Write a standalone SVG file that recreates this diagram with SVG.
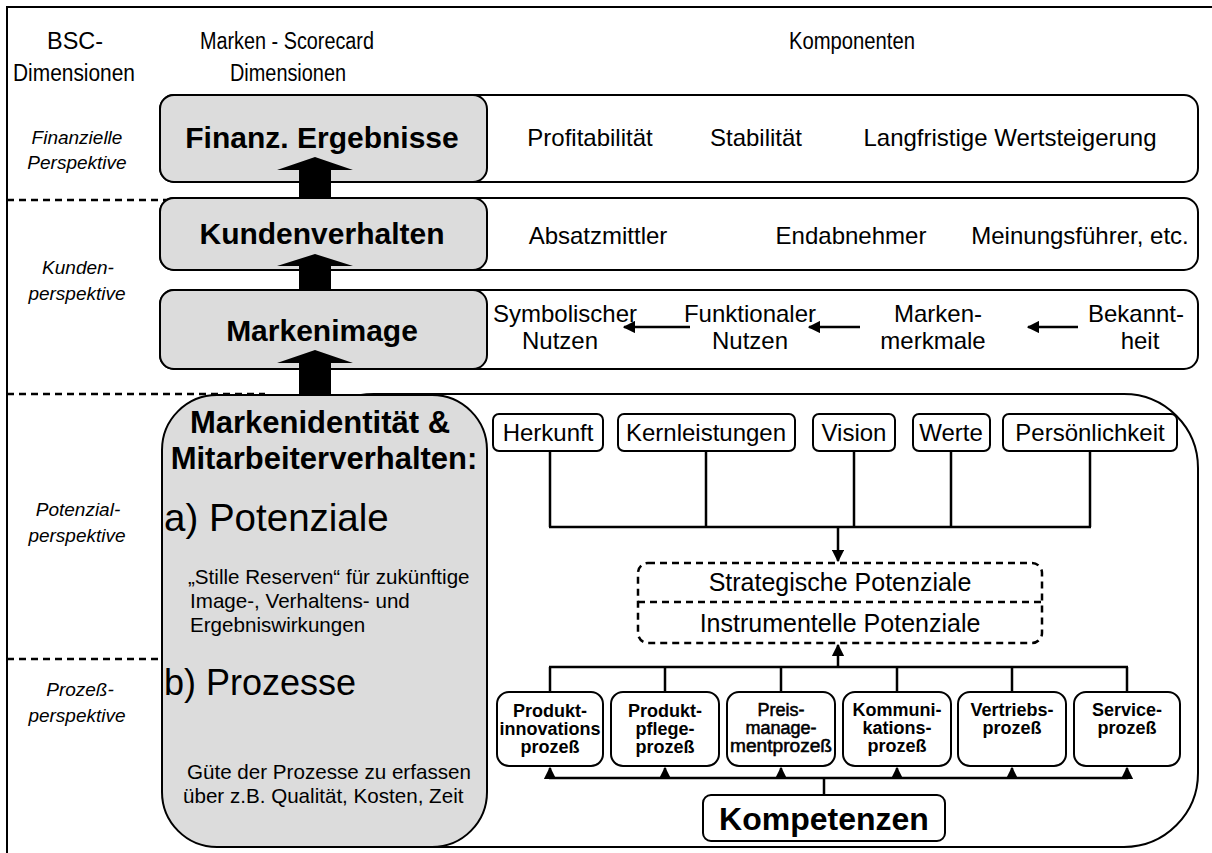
<svg xmlns="http://www.w3.org/2000/svg" width="1212" height="853" viewBox="0 0 1212 853">
  <defs>
    <marker id="tri" viewBox="0 0 10 10" refX="9" refY="5" markerWidth="5" markerHeight="5" orient="auto-start-reverse">
      <path d="M0,0 L10,5 L0,10 Z" fill="#000"/>
    </marker>
    <style>
      text { font-family: "Liberation Sans", Arial, sans-serif; fill: #000; }
      .hdr { font-size: 23.5px; text-anchor: middle; }
      .persp { font-size: 19px; font-style: italic; text-anchor: middle; }
      .dim { font-size: 30px; font-weight: bold; text-anchor: middle; }
      .dim2 { font-size: 31px; font-weight: bold; text-anchor: middle; }
      .komp { font-size: 32px; font-weight: bold; text-anchor: middle; }
      .comp { font-size: 24px; text-anchor: middle; }
      .ident { font-size: 24px; text-anchor: middle; }
      .pot { font-size: 25px; text-anchor: middle; }
      .proc { font-size: 18px; font-weight: bold; text-anchor: middle; }
      .procn { font-size: 18px; text-anchor: middle; stroke: #000; stroke-width: 0.55px; }
      .bigA { font-size: 38.5px; }
      .bigB { font-size: 36px; }
      .note { font-size: 20.6px; }
      .gray { fill: #dcdcdc; stroke: #000; stroke-width: 2; }
      .white { fill: #fff; stroke: #000; stroke-width: 2; }
      .sep { stroke: #000; stroke-width: 2.5; stroke-dasharray: 7 5; fill: none; }
      .wire { stroke: #000; stroke-width: 2.5; fill: none; }
      .thin { stroke: #000; stroke-width: 2; fill: none; }
      .dashbox { fill: #fff; stroke: #000; stroke-width: 2.5; stroke-dasharray: 7 5; }
    </style>
  </defs>

  <rect width="1212" height="853" fill="#fff"/>

  <!-- outer frame -->
  <path d="M7,853 V7 H1212" class="thin" stroke-width="2.5"/>

  <!-- column headers (narrow set) -->
  <g id="headers">
    <text class="hdr" x="75" y="49" textLength="56" lengthAdjust="spacingAndGlyphs">BSC-</text>
    <text class="hdr" x="74" y="81" textLength="122" lengthAdjust="spacingAndGlyphs">Dimensionen</text>
    <text class="hdr" x="287" y="49" textLength="174" lengthAdjust="spacingAndGlyphs">Marken - Scorecard</text>
    <text class="hdr" x="288" y="81" textLength="116" lengthAdjust="spacingAndGlyphs">Dimensionen</text>
    <text class="hdr" x="852" y="49" textLength="126" lengthAdjust="spacingAndGlyphs">Komponenten</text>
  </g>

  <!-- perspective separators and labels -->
  <g id="perspectives">
    <line class="sep" x1="7" y1="200" x2="250" y2="200"/>
    <line class="sep" x1="7" y1="394" x2="265" y2="394"/>
    <line class="sep" x1="7" y1="659" x2="162" y2="659"/>
    <text class="persp" x="77" y="144">Finanzielle</text>
    <text class="persp" x="77" y="169">Perspektive</text>
    <text class="persp" x="78" y="274">Kunden-</text>
    <text class="persp" x="77" y="300">perspektive</text>
    <text class="persp" x="78" y="516">Potenzial-</text>
    <text class="persp" x="77" y="542">perspektive</text>
    <text class="persp" x="80" y="696">Prozeß-</text>
    <text class="persp" x="77" y="722">perspektive</text>
  </g>

  <!-- block arrows between the dimension boxes (shafts) -->
  <g id="block-arrows" fill="#000">
    <polygon points="315,157 353,170 331,170 331,200 299,200 299,170 277,170"/>
    <polygon points="315,254 353,266 331,266 331,292 299,292 299,266 277,266"/>
    <polygon points="315,350 353,363 331,363 331,396 299,396 299,363 277,363"/>
  </g>

  <!-- financial row -->
  <g id="row-finanz">
    <rect class="white" x="160" y="95" width="1038" height="87" rx="14"/>
    <rect class="gray" x="160" y="95" width="327" height="87" rx="14"/>
    <text class="dim" x="322" y="148">Finanz. Ergebnisse</text>
    <text class="comp" x="590" y="146">Profitabilität</text>
    <text class="comp" x="756" y="146">Stabilität</text>
    <text class="comp" x="1010" y="146">Langfristige Wertsteigerung</text>
  </g>
  <polygon points="315,157 353,170 331,170 331,182 299,182 299,170 277,170" fill="#000"/>

  <!-- customer behaviour row -->
  <g id="row-kunden">
    <rect class="white" x="160" y="198" width="1038" height="72" rx="14"/>
    <rect class="gray" x="160" y="198" width="327" height="72" rx="14"/>
    <text class="dim" x="322" y="244">Kundenverhalten</text>
    <text class="comp" x="598" y="244">Absatzmittler</text>
    <text class="comp" x="851" y="244">Endabnehmer</text>
    <text class="comp" x="1080" y="244">Meinungsführer, etc.</text>
  </g>
  <polygon points="315,254 353,266 331,266 331,270 299,270 299,266 277,266" fill="#000"/>

  <!-- brand image row -->
  <g id="row-image">
    <rect class="white" x="160" y="290" width="1038" height="79" rx="14"/>
    <rect class="gray" x="160" y="290" width="327" height="79" rx="14"/>
    <text class="dim" x="322" y="341">Markenimage</text>
    <text class="comp" x="565" y="322">Symbolischer</text>
    <text class="comp" x="560" y="349">Nutzen</text>
    <text class="comp" x="750" y="322">Funktionaler</text>
    <text class="comp" x="750" y="349">Nutzen</text>
    <text class="comp" x="938" y="322">Marken-</text>
    <text class="comp" x="933" y="349">merkmale</text>
    <text class="comp" x="1136" y="322">Bekannt-</text>
    <text class="comp" x="1140" y="349">heit</text>
  </g>
  <polygon points="315,350 353,363 331,363 331,369 299,369 299,363 277,363" fill="#000"/>

  <!-- identity / employee behaviour container -->
  <g id="container">
    <rect class="white" x="300" y="394" width="898" height="453" rx="74"/>
  </g>

  <g id="identitaet">
    <rect class="gray" x="162" y="395" width="325" height="452" rx="55"/>
    <text class="dim2" x="320" y="433">Markenidentität &amp;</text>
    <text class="dim2" x="324" y="469">Mitarbeiterverhalten:</text>
    <text class="bigA" x="164" y="531">a) Potenziale</text>
    <text class="note" x="188" y="584">„Stille Reserven“ für zukünftige</text>
    <text class="note" x="190" y="608">Image-, Verhaltens- und</text>
    <text class="note" x="190" y="632">Ergebniswirkungen</text>
    <text class="bigB" x="164" y="695">b) Prozesse</text>
    <text class="note" x="187" y="779">Güte der Prozesse zu erfassen</text>
    <text class="note" x="183" y="803">über z.B. Qualität, Kosten, Zeit</text>
  </g>

  <!-- identity components -->
  <g id="herkunft">
    <rect class="white" x="493" y="414" width="110" height="37" rx="6"/>
    <text class="ident" x="548" y="441">Herkunft</text>
  </g>
  <g id="kernleistungen">
    <rect class="white" x="618" y="414" width="177" height="37" rx="6"/>
    <text class="ident" x="706" y="441">Kernleistungen</text>
  </g>
  <g id="vision">
    <rect class="white" x="813" y="414" width="82" height="37" rx="6"/>
    <text class="ident" x="854" y="441">Vision</text>
  </g>
  <g id="werte">
    <rect class="white" x="913" y="414" width="77" height="37" rx="6"/>
    <text class="ident" x="951" y="441">Werte</text>
  </g>
  <g id="persoenlichkeit">
    <rect class="white" x="1003" y="414" width="174" height="37" rx="6"/>
    <text class="ident" x="1090" y="441">Persönlichkeit</text>
  </g>

  <!-- potentials -->
  <g id="potenziale">
    <rect class="dashbox" x="638" y="563" width="404" height="80" rx="10"/>
    <line class="sep" x1="638" y1="602" x2="1042" y2="602"/>
    <text class="pot" x="840" y="591">Strategische Potenziale</text>
    <text class="pot" x="840" y="632">Instrumentelle Potenziale</text>
  </g>

  <!-- processes -->
  <g id="p-innovation">
    <rect class="white" x="497" y="692" width="106" height="74" rx="12"/>
    <text class="proc" x="550" y="717">Produkt-</text>
    <text class="proc" x="550" y="735">innovations</text>
    <text class="proc" x="550" y="753">prozeß</text>
  </g>
  <g id="p-pflege">
    <rect class="white" x="611" y="692" width="108" height="74" rx="12"/>
    <text class="proc" x="665" y="717">Produkt-</text>
    <text class="proc" x="665" y="735">pflege-</text>
    <text class="proc" x="665" y="753">prozeß</text>
  </g>
  <g id="p-preis">
    <rect class="white" x="727" y="692" width="108" height="74" rx="12"/>
    <text class="procn" x="781" y="716">Preis-</text>
    <text class="procn" x="781" y="734">manage-</text>
    <text class="procn" x="781" y="752" textLength="102" lengthAdjust="spacingAndGlyphs">mentprozeß</text>
  </g>
  <g id="p-kommunikation">
    <rect class="white" x="843" y="692" width="108" height="74" rx="12"/>
    <text class="proc" x="897" y="716">Kommuni-</text>
    <text class="proc" x="897" y="734">kations-</text>
    <text class="proc" x="897" y="752">prozeß</text>
  </g>
  <g id="p-vertrieb">
    <rect class="white" x="958" y="692" width="108" height="74" rx="12"/>
    <text class="proc" x="1012" y="716">Vertriebs-</text>
    <text class="proc" x="1012" y="734">prozeß</text>
  </g>
  <g id="p-service">
    <rect class="white" x="1074" y="692" width="106" height="74" rx="12"/>
    <text class="proc" x="1127" y="716">Service-</text>
    <text class="proc" x="1127" y="734">prozeß</text>
  </g>

  <g id="kompetenzen">
    <rect class="white" x="703" y="795" width="242" height="46" rx="8"/>
    <text class="komp" x="824" y="830">Kompetenzen</text>
  </g>

  <!-- connectors -->
  <g id="connectors">
    <!-- Markenimage chain -->
    <line class="wire" x1="690" y1="327" x2="624" y2="327" marker-end="url(#tri)"/>
    <line class="wire" x1="860" y1="327" x2="809" y2="327" marker-end="url(#tri)"/>
    <line class="wire" x1="1078" y1="327" x2="1028" y2="327" marker-end="url(#tri)"/>

    <!-- identity components into the potentials -->
    <path class="wire" d="M550,451 V527 M706,451 V527 M854,451 V527 M951,451 V527 M1090,451 V527 M549,527 H1091"/>
    <line class="wire" x1="838" y1="527" x2="838" y2="561" marker-end="url(#tri)"/>

    <!-- processes into the potentials -->
    <path class="wire" d="M550,692 V667 M665,692 V667 M781,692 V667 M897,692 V667 M1012,692 V667 M1127,692 V667 M549,667 H1128"/>
    <line class="wire" x1="838" y1="667" x2="838" y2="645" marker-end="url(#tri)"/>

    <!-- competences into the processes -->
    <path class="wire" d="M549,778 H1128 M824,778 V795"/>
    <line class="wire" x1="550" y1="778" x2="550" y2="768" marker-end="url(#tri)"/>
    <line class="wire" x1="665" y1="778" x2="665" y2="768" marker-end="url(#tri)"/>
    <line class="wire" x1="781" y1="778" x2="781" y2="768" marker-end="url(#tri)"/>
    <line class="wire" x1="897" y1="778" x2="897" y2="768" marker-end="url(#tri)"/>
    <line class="wire" x1="1012" y1="778" x2="1012" y2="768" marker-end="url(#tri)"/>
    <line class="wire" x1="1127" y1="778" x2="1127" y2="768" marker-end="url(#tri)"/>
  </g>
</svg>
